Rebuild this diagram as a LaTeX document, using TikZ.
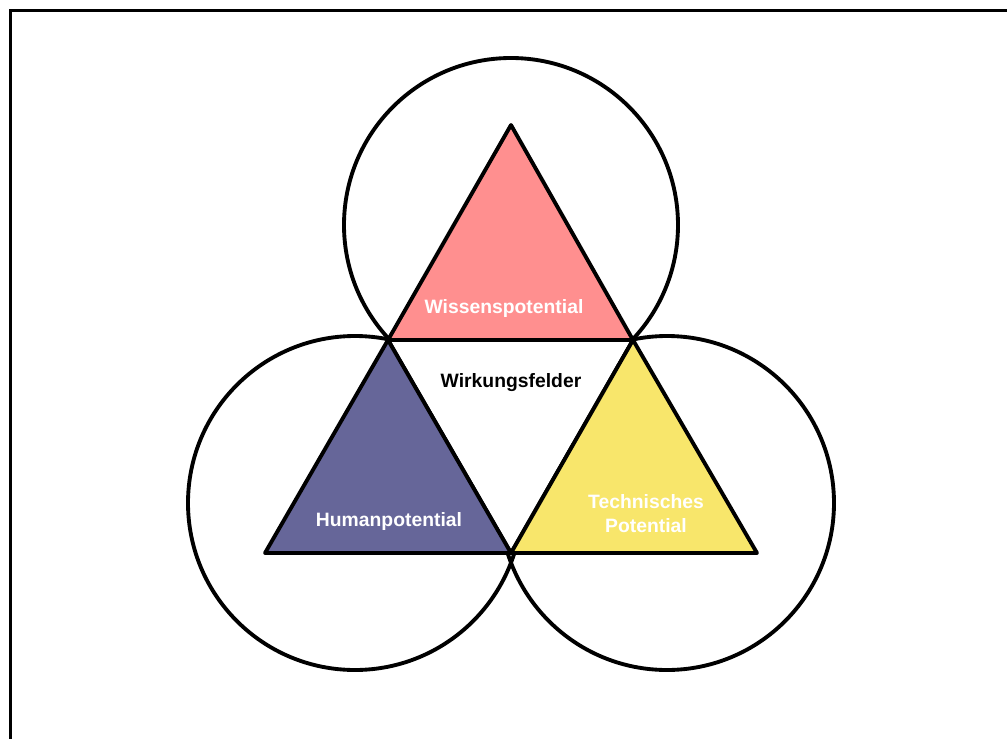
\documentclass[tikz,border=0pt]{standalone}
\usepackage{fontspec}
\setmainfont{Liberation Sans}
\usepackage{tikz}
\usetikzlibrary{positioning}
\definecolor{wissen}{HTML}{FF8F8F}
\definecolor{human}{HTML}{666699}
\definecolor{technik}{HTML}{F8E66B}

\begin{document}
\begin{tikzpicture}[
  font=\fontsize{5.5}{6.8}\selectfont\bfseries,
  ring/.style={draw, circle, line width=1.1pt, minimum size=3.34cm, inner sep=0pt},
  tri/.style={draw, line width=1.1pt, line join=round},
  lbl/.style={align=center, text=white, inner sep=1pt}
]
\useasboundingbox (0,0) rectangle (10.07,7.38);
\draw[line width=0.9pt] (0.105,-1) |- (11,7.275);

% corners of the three triangles
\coordinate (top)  at (5.11,6.13);
\coordinate (ml)   at (3.88,3.98);
\coordinate (mr)   at (6.33,3.98);
\coordinate (bl)   at (2.65,1.85);
\coordinate (bm)   at (5.11,1.85);
\coordinate (br)   at (7.57,1.85);

\node[ring] (cwissen) at (5.11,5.13) {};
\node[ring] (chuman) at (3.55,2.35) {};
\node[ring] (ctechnik) at (6.67,2.35) {};

\draw[tri, fill=white] (ml) -- (mr) -- (bm) -- cycle;
\draw[tri, fill=wissen] (top) -- (ml) -- (mr) -- cycle;
\draw[tri, fill=human] (ml) -- (bl) -- (bm) -- cycle;
\draw[tri, fill=technik] (mr) -- (bm) -- (br) -- cycle;

\node[lbl] (wissen) at (5.04,4.30) {Wissenspotential};
\node[lbl, text=black] (mitte) at (5.11,3.55) {Wirkungsfelder};
\node[lbl] (human) at (3.89,2.17) {Humanpotential};
\node[lbl] (technik) at (6.46,2.24) {Technisches\\Potential};
\end{tikzpicture}
\end{document}
